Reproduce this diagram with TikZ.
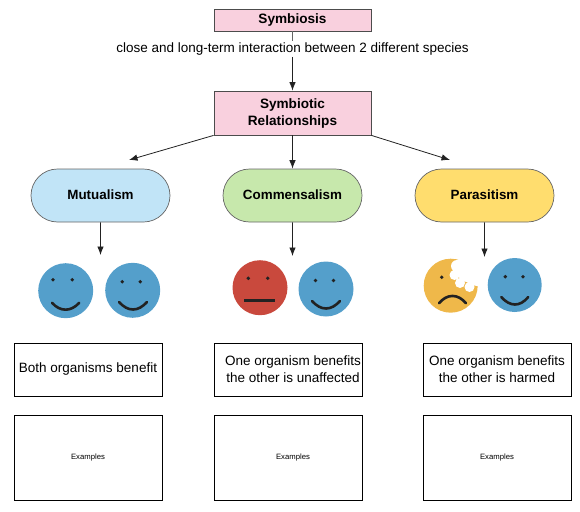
\documentclass[tikz,border=0pt]{standalone}
\usepackage{fontspec}
\setmainfont{Liberation Sans}
\usetikzlibrary{arrows.meta,shapes.misc}
\definecolor{pinkbox}{HTML}{F9D0DE}
\definecolor{bluepill}{HTML}{C1E4F7}
\definecolor{greenpill}{HTML}{C7E8AC}
\definecolor{yellowpill}{HTML}{FFDD6E}
\definecolor{faceblue}{HTML}{549FCB}
\definecolor{facered}{HTML}{C9493D}
\definecolor{faceyellow}{HTML}{EFB84A}
\definecolor{inkline}{HTML}{222222}
\tikzset{
  x=1pt,y=-1pt,
  titlebox/.style={draw=black!70,fill=pinkbox,line width=.8pt,minimum width=157pt,inner sep=0pt,align=center,font=\fontsize{13.6}{17}\selectfont\bfseries},
  pill/.style={draw=black!60,rounded rectangle,line width=.7pt,minimum width=139pt,minimum height=53pt,inner sep=0pt,font=\fontsize{13.4}{16}\selectfont\bfseries},
  infobox/.style={draw=black,line width=.8pt,minimum width=148pt,minimum height=53pt,inner sep=0pt,align=center,font=\fontsize{13.5}{17}\selectfont},
  examplebox/.style={draw=black,line width=.8pt,minimum width=148pt,minimum height=85pt,inner sep=0pt,font=\fontsize{7.7}{9}\selectfont},
  conn/.style={draw=inkline,line width=.8pt,-{Latex[length=8.5pt,width=6.5pt]}},
  plainline/.style={draw=inkline!70,line width=.8pt},
  facefill/.style={fill=#1,draw=none},
  mouth/.style={draw=inkline,line width=2.6pt,line cap=round},
  eye/.style={fill=inkline,draw=none}
}
\begin{document}
\begin{tikzpicture}
\useasboundingbox (0,0) rectangle (580,511);
% nodes
\node[titlebox,minimum height=22pt] (sym) at (292.5,20) {\raisebox{1.2pt}{Symbiosis}};
\node[titlebox,minimum height=44pt] (rel) at (292.5,113) {Symbiotic\\Relationships};
\node[fill=white,inner sep=1.5pt,font=\fontsize{13.5}{16}\selectfont] (def) at (292.5,49) {close and long-term interaction between 2 different species};
\node[pill,fill=bluepill] (mut) at (100.5,195.5) {\raisebox{1pt}{Mutualism}};
\node[pill,fill=greenpill] (com) at (292.5,195.5) {\raisebox{1pt}{Commensalism}};
\node[pill,fill=yellowpill] (par) at (484.5,195.5) {\raisebox{1pt}{Parasitism}};
\node[infobox] (i1) at (88,369.5) {\raisebox{1.5pt}{Both organisms benefit}};
\node[infobox] (i2) at (288,369.5) {\hspace*{10pt}One organism benefits\\\hspace*{10pt}the other is unaffected};
\node[infobox] (i3) at (497,369.5) {One organism benefits\\the other is harmed};
\node[examplebox] (e1) at (88,457.5) {Examples};
\node[examplebox] (e2) at (288,457.5) {\hspace*{10pt}Examples};
\node[examplebox] (e3) at (497,457.5) {Examples};
\coordinate (tl) at (129,160);
\coordinate (tr) at (450,160);
\coordinate (tm) at (rel.south -| com.north);
\coordinate (a1) at (100.5,255);
\coordinate (a2) at (292.5,256);
\coordinate (a3) at (484.5,257);
% face 5 first: its bite must not cover the arrow
\fill[facefill=faceyellow] (450.7,285.7) circle[radius=27];
\fill[white] (470,268) circle[radius=14.5] (457,266) circle[radius=6] (454.5,275) circle[radius=5] (460,283) circle[radius=5] (469.5,287) circle[radius=5] (477,278) circle[radius=8] (478,262) circle[radius=12];
\fill[eye] (441.7,277.3) circle[radius=1.9];
\draw[mouth] (439,303.3) .. controls (447,293.5) and (458,293.5) .. (466,303.3);
% connectors
\draw[plainline] (sym) -- (def);
\draw[conn] (def) -- (rel);
\draw[conn] (rel.south west) -- (tl);
\draw[conn] (tm) -- (com.north);
\draw[conn] (rel.south east) -- (tr);
\draw[conn] (mut) -- (a1);
\draw[conn] (com) -- (a2);
\draw[conn] (par) -- (a3);
% face 1
\fill[facefill=faceblue] (65.7,290.7) circle[radius=27.5];
\fill[eye] (53,279.7) circle[radius=1.9] (72.3,279.7) circle[radius=1.9];
\draw[mouth] (52,302.7) .. controls (60,312) and (71,312) .. (79.3,302.7);
% face 2
\fill[facefill=faceblue] (132.7,290.3) circle[radius=27.5];
\fill[eye] (122.3,281.7) circle[radius=1.9] (140.3,281.7) circle[radius=1.9];
\draw[mouth] (119,302) .. controls (128,312) and (138,312) .. (147,302);
% face 3
\fill[facefill=facered] (260,287.7) circle[radius=27.5];
\fill[eye] (248.3,278.3) circle[radius=1.9] (267.7,278.3) circle[radius=1.9];
\draw[mouth,line cap=butt] (244,300.7) -- (275,300.7);
% face 4
\fill[facefill=faceblue] (326,289) circle[radius=27.5];
\fill[eye] (315.5,280.5) circle[radius=1.9] (333.5,280.5) circle[radius=1.9];
\draw[mouth] (312,301) .. controls (321,311) and (331,311) .. (340,301);
% face 6
\fill[facefill=faceblue] (514.7,285) circle[radius=27];
\fill[eye] (505.3,276.7) circle[radius=1.9] (523,276.7) circle[radius=1.9];
\draw[mouth] (501.3,297) .. controls (510,307) and (520,307) .. (528.3,297);
\end{tikzpicture}
\end{document}
